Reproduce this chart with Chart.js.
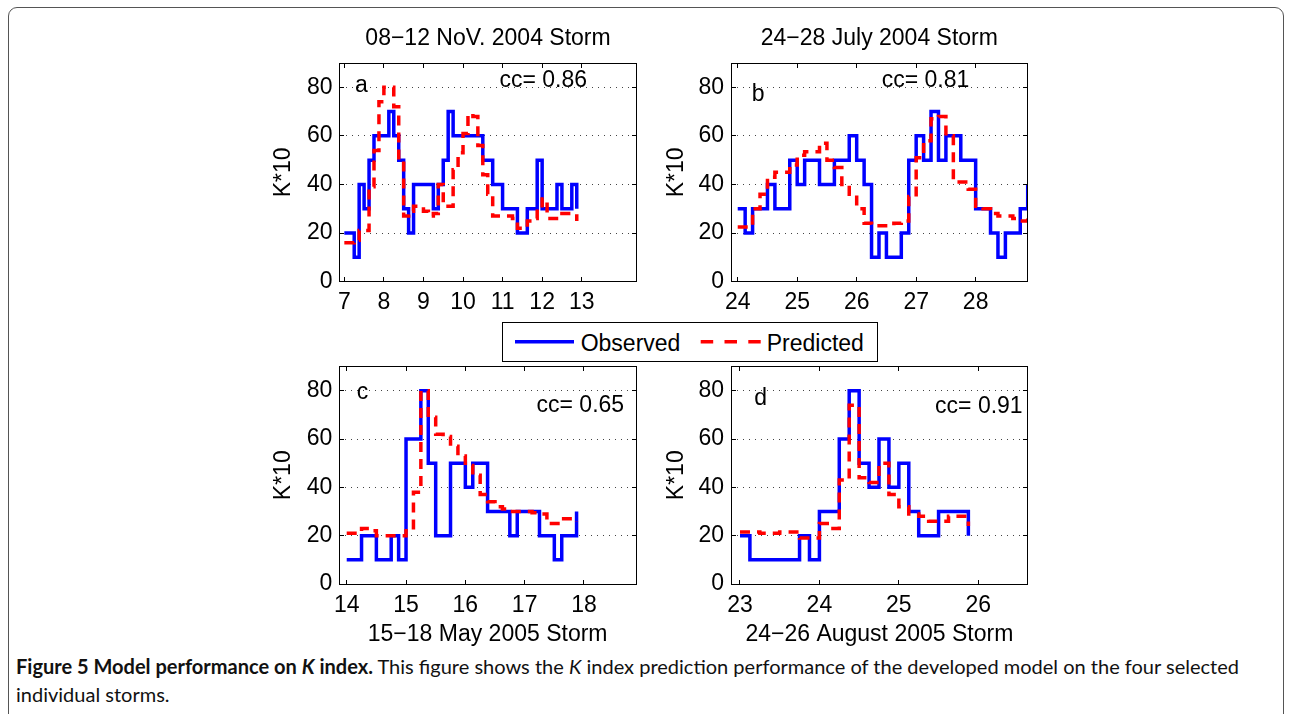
<!DOCTYPE html>
<html><head><meta charset="utf-8">
<script src="https://cdn.jsdelivr.net/npm/chart.js@4.4.1/dist/chart.umd.min.js"></script>
<style>
html,body{margin:0;padding:0;background:#fff;}
body{width:1291px;height:714px;position:relative;overflow:hidden;}
.frame{position:absolute;left:8px;top:7px;width:1276px;height:760px;border:1px solid #555;border-radius:9px;box-sizing:border-box;}
.pc{position:absolute;}
.cap{position:absolute;left:16px;white-space:nowrap;font-family:Lato,"Open Sans",sans-serif;line-height:1.2;color:#111;font-size:16px;}
</style></head>
<body>
<div class="frame"></div>
<canvas id="ca" class="pc" width="400" height="320" style="left:255px;top:0px;width:400px;height:320px"></canvas>
<canvas id="cb" class="pc" width="400" height="320" style="left:650px;top:0px;width:400px;height:320px"></canvas>
<canvas id="cc" class="pc" width="400" height="330" style="left:255px;top:320px;width:400px;height:330px"></canvas>
<canvas id="cd" class="pc" width="400" height="330" style="left:650px;top:320px;width:400px;height:330px"></canvas>
<svg id="legend" width="376" height="40" style="position:absolute;left:502px;top:322px;font-family:'Liberation Sans',Arial,sans-serif;">
  <rect x="0.5" y="0.5" width="375" height="39" fill="#fff" stroke="#000" stroke-width="1"/>
  <line x1="13" y1="19.7" x2="72" y2="19.7" stroke="#0000ff" stroke-width="3.5"/>
  <text x="78.7" y="28.7" font-size="23" fill="#000">Observed</text>
  <line x1="198.7" y1="19.7" x2="258.7" y2="19.7" stroke="#ff0000" stroke-width="3.5" stroke-dasharray="12.5 11.3"/>
  <text x="264.7" y="28.7" font-size="23" fill="#000">Predicted</text>
</svg>
<div id="cap1" class="cap"><b>Figure 5 Model performance on <i>K</i> index.</b> This figure shows the <i>K</i> index prediction performance of the developed model on the four selected</div>
<div id="cap2" class="cap">individual storms.</div>
<script>
const FONT = '"Liberation Sans", Arial, Helvetica, sans-serif';

// ---- Panel a: 08-12 Nov 2004 ----
const obsA_t = [7.0, 7.25, 7.375, 7.5, 7.625, 7.75, 8.125, 8.25, 8.375, 8.5, 8.625, 8.75, 9.25, 9.375, 9.5, 9.625, 9.75, 10.5, 10.75, 11.0, 11.375, 11.625, 11.875, 12.0, 12.375, 12.5, 12.75, 12.875];
const obsA_v = [20, 10, 40, 30, 50, 60, 70, 60, 50, 30, 20, 40, 30, 40, 50, 70, 60, 50, 40, 30, 20, 30, 50, 30, 40, 30, 40, 30];
const predA_t = [7.0, 7.125, 7.25, 7.375, 7.5, 7.625, 7.75, 7.875, 8.0, 8.125, 8.25, 8.375, 8.5, 8.625, 8.75, 8.875, 9.0, 9.125, 9.25, 9.375, 9.5, 9.625, 9.75, 9.875, 10.0, 10.125, 10.25, 10.375, 10.5, 10.625, 10.75, 10.875, 11.0, 11.125, 11.25, 11.375, 11.5, 11.625, 11.75, 11.875, 12.0, 12.125, 12.25, 12.375, 12.5, 12.625, 12.75, 12.875];
const predA_v = [16, 16, 17, 21, 21, 39, 54, 74, 80, 80, 72, 50, 27, 29, 31, 31, 29, 27, 28, 40, 31, 31, 46, 53, 61, 69, 68, 56, 44, 36, 27, 27, 27, 27, 26, 22, 22, 25, 26, 30, 34, 26, 26, 26, 28, 28, 28, 25];

// ---- Panel b: 24-28 July 2004 ----
const obsB_t = [24.0, 24.125, 24.25, 24.5, 24.625, 24.875, 25.0, 25.125, 25.375, 25.625, 25.875, 26.0, 26.125, 26.25, 26.375, 26.5, 26.75, 26.875, 27.0, 27.125, 27.25, 27.375, 27.5, 27.75, 28.0, 28.25, 28.375, 28.5, 28.75, 28.875];
const obsB_v = [30, 20, 30, 40, 30, 50, 40, 50, 40, 50, 60, 50, 40, 10, 20, 10, 20, 50, 60, 50, 70, 50, 60, 50, 30, 20, 10, 20, 30, 40];
const predB_t = [24.0, 24.125, 24.25, 24.375, 24.5, 24.625, 24.75, 24.875, 25.0, 25.125, 25.25, 25.375, 25.5, 25.625, 25.75, 25.875, 26.0, 26.125, 26.25, 26.375, 26.5, 26.625, 26.75, 26.875, 27.0, 27.125, 27.25, 27.375, 27.5, 27.625, 27.75, 27.875, 28.0, 28.125, 28.25, 28.375, 28.5, 28.625, 28.75, 28.875];
const predB_v = [22.5, 22.5, 30, 36, 43, 45, 45, 48, 52, 53.5, 53.5, 57, 50, 47, 40, 36, 30, 24, 23, 23, 23, 24, 25, 35, 51, 58, 67, 68, 60, 41, 41, 38, 31, 30, 28, 27, 27, 26, 25, 26];

// ---- Panel c: 15-18 May 2005 ----
const obsC_t = [14.0, 14.25, 14.5, 14.75, 14.875, 15.0, 15.25, 15.375, 15.5, 15.75, 16.0, 16.125, 16.375, 16.75, 16.875, 17.25, 17.5, 17.625, 17.875];
const obsC_v = [10, 20, 10, 20, 10, 60, 80, 50, 20, 50, 40, 50, 30, 20, 30, 20, 10, 20, 30];
const predC_t = [14.0, 14.125, 14.25, 14.375, 14.5, 14.625, 14.75, 14.875, 15.0, 15.125, 15.25, 15.375, 15.5, 15.625, 15.75, 15.875, 16.0, 16.125, 16.25, 16.375, 16.5, 16.625, 16.75, 16.875, 17.0, 17.125, 17.25, 17.375, 17.5, 17.625, 17.75, 17.875];
const predC_v = [21, 21, 23, 22, 20, 20, 20, 20, 22, 38, 80, 69, 62, 61, 57, 53, 49, 45, 37, 34, 32, 31, 30, 30, 30, 29.5, 29, 25, 25, 27, 27, 26];

// ---- Panel d: 24-26 August 2005 ----
const obsD_t = [23.0, 23.125, 23.75, 23.875, 24.0, 24.25, 24.375, 24.5, 24.625, 24.75, 24.875, 25.0, 25.125, 25.25, 25.5, 25.875];
const obsD_v = [20, 10, 20, 10, 30, 60, 80, 50, 40, 60, 40, 50, 30, 20, 30, 20];
const predD_t = [23.0, 23.125, 23.25, 23.375, 23.5, 23.625, 23.75, 23.875, 24.0, 24.125, 24.25, 24.375, 24.5, 24.625, 24.75, 24.875, 25.0, 25.125, 25.25, 25.375, 25.5, 25.625, 25.75, 25.875];
const predD_v = [21.5, 21.5, 21, 21, 21.5, 21.5, 19, 19, 25, 23, 43, 74, 44, 42, 50, 37, 32, 29, 28, 26, 26, 28, 28, 24];

// ---- ticks & labels ----
const ticksA = [7, 8, 9, 10, 11, 12, 13];
const ticksB = [24, 25, 26, 27, 28];
const ticksC = [14, 15, 16, 17, 18];
const ticksD = [23, 24, 25, 26];
const yTicks = [0, 20, 40, 60, 80];
const yLabel = 'K*10';
const titleA = '08−12 NoV. 2004 Storm';
const titleB = '24−28 July 2004 Storm';
const titleC = '15−18 May 2005 Storm';
const titleD = '24−26 August 2005 Storm';
const ccA = 'cc= 0.86', ccB = 'cc= 0.81', ccC = 'cc= 0.65', ccD = 'cc= 0.91';
const seriesNames = ['Observed', 'Predicted'];

const decor = {
  id: 'decor',
  afterDraw(chart, args, o) {
    const {ctx, chartArea: a} = chart;
    const x = chart.scales.x, y = chart.scales.y;
    ctx.save();
    ctx.setLineDash([]);
    ctx.strokeStyle = '#000';
    ctx.lineWidth = 1;
    const L = Math.floor(a.left) + 0.5, R = Math.floor(a.right) + 0.5, T = Math.floor(a.top) + 0.5, B = Math.floor(a.bottom) + 0.5;
    ctx.beginPath();
    x.ticks.forEach(t => {
      const px = Math.floor(x.getPixelForValue(t.value)) + 0.5;
      ctx.moveTo(px, B); ctx.lineTo(px, B - 4.5);
      ctx.moveTo(px, T); ctx.lineTo(px, T + 4.5);
    });
    y.ticks.forEach(t => {
      const py = Math.floor(y.getPixelForValue(t.value)) + 0.5;
      ctx.moveTo(L, py); ctx.lineTo(L + 4.5, py);
      ctx.moveTo(R, py); ctx.lineTo(R - 4.5, py);
    });
    ctx.stroke();
    ctx.strokeRect(L, T, R - L, B - T);
    ctx.fillStyle = '#000';
    ctx.font = '23px ' + FONT;
    ctx.textAlign = 'left';
    ctx.textBaseline = 'alphabetic';
    ctx.fillText(o.letter, x.getPixelForValue(o.letterAt[0]), y.getPixelForValue(o.letterAt[1]));
    ctx.fillText(o.cc, x.getPixelForValue(o.ccAt[0]), y.getPixelForValue(o.ccAt[1]));
    ctx.restore();
  }
};

function pts(t, v) { return t.map((tt, i) => ({x: tt, y: v[i]})); }

function makePanel(id, cfg) {
  const opts = {
    responsive: false,
    animation: false,
    events: [],
    devicePixelRatio: 1,
    layout: {padding: {left: 0, right: cfg.padRight, top: cfg.padTop, bottom: 0}},
    plugins: {
      legend: {display: false},
      tooltip: {enabled: false},
      title: cfg.top ? {
        display: true, text: cfg.top, fullSize: false, color: '#000',
        font: {family: FONT, size: 23, weight: 'normal', lineHeight: 1.2},
        padding: {top: 24.8, bottom: 10.6}
      } : {display: false},
      decor: {letter: cfg.letter, letterAt: cfg.letterAt, cc: cfg.cc, ccAt: cfg.ccAt}
    },
    scales: {
      x: {
        type: 'linear', min: cfg.xmin, max: cfg.xmax,
        afterBuildTicks: s => { s.ticks = cfg.xticks.map(v => ({value: v})); },
        afterFit: s => { s.height = cfg.xh; },
        grid: {display: false, drawTicks: false},
        border: {display: false},
        ticks: {autoSkip: false, maxRotation: 0, padding: 7.5, color: '#000', font: {family: FONT, size: 23}},
        title: cfg.bottom ? {display: true, text: cfg.bottom, color: '#000', font: {family: FONT, size: 23, lineHeight: 1.2}, padding: {top: 0, bottom: 1.6}} : {display: false}
      },
      y: {
        type: 'linear', min: 0, max: 90,
        afterBuildTicks: s => { s.ticks = yTicks.map(v => ({value: v})); },
        afterFit: s => { s.width = cfg.yw; },
        grid: {display: true, drawTicks: false, color: '#444', lineWidth: 1},
        border: {display: false, dash: [1, 5]},
        ticks: {padding: 7, color: '#000', font: {family: FONT, size: 23}},
        title: {display: true, text: yLabel, color: '#000', font: {family: FONT, size: 23, lineHeight: 1.2}, padding: {top: cfg.ytPad, bottom: 0}}
      }
    }
  };
  return new Chart(document.getElementById(id), {
    type: 'line',
    data: {
      datasets: [
        {label: seriesNames[0], data: pts(cfg.obsT, cfg.obsV), order: 2, stepped: true,
         borderColor: '#0000ff', borderWidth: 3.5, pointRadius: 0, fill: false, tension: 0},
        {label: seriesNames[1], data: pts(cfg.predT, cfg.predV), order: 1, stepped: true,
         borderColor: '#ff0000', borderWidth: 3.5, borderDash: [10, 7], pointRadius: 0, fill: false, tension: 0}
      ]
    },
    options: opts,
    plugins: [decor]
  });
}

makePanel('ca', {obsT: obsA_t, obsV: obsA_v, predT: predA_t, predV: predA_v, xticks: ticksA,
  xmin: 6.878, xmax: 14.385, padRight: 18.5, padTop: 0, yw: 84.5, xh: 38.4, ytPad: 15.2,
  top: titleA, letter: 'a', letterAt: [7.27, 78.2], cc: ccA, ccAt: [10.92, 80]});
makePanel('cb', {obsT: obsB_t, obsV: obsB_v, predT: predB_t, predV: predB_v, xticks: ticksB,
  xmin: 23.887, xmax: 28.875, padRight: 22.3, padTop: 0, yw: 81, xh: 38.4, ytPad: 13.2,
  top: titleB, letter: 'b', letterAt: [24.235, 74.5], cc: ccB, ccAt: [26.42, 80]});
makePanel('cc', {obsT: obsC_t, obsV: obsC_v, predT: predC_t, predV: predC_v, xticks: ticksC,
  xmin: 13.875, xmax: 18.877, padRight: 19, padTop: 46.5, yw: 84.3, xh: 66, ytPad: 15.2,
  bottom: titleC, letter: 'c', letterAt: [14.17, 76.6], cc: ccC, ccAt: [17.2, 71]});
makePanel('cd', {obsT: obsD_t, obsV: obsD_v, predT: predD_t, predV: predD_v, xticks: ticksD,
  xmin: 22.887, xmax: 26.622, padRight: 22.3, padTop: 46.5, yw: 81, xh: 66, ytPad: 13.2,
  bottom: titleD, letter: 'd', letterAt: [23.18, 74], cc: ccD, ccAt: [25.456, 70.6]});

// caption fitting
(function(){
  const c1 = document.getElementById('cap1'), c2 = document.getElementById('cap2');
  const w = c1.getBoundingClientRect().width;
  const fs = 16 * 1224 / w;
  c1.style.fontSize = fs + 'px'; c2.style.fontSize = fs + 'px';
  c1.style.top = (674 - 0.987 * fs) + 'px';
  c2.style.top = (701.7 - 0.987 * fs) + 'px';
})();
</script>
</body></html>
